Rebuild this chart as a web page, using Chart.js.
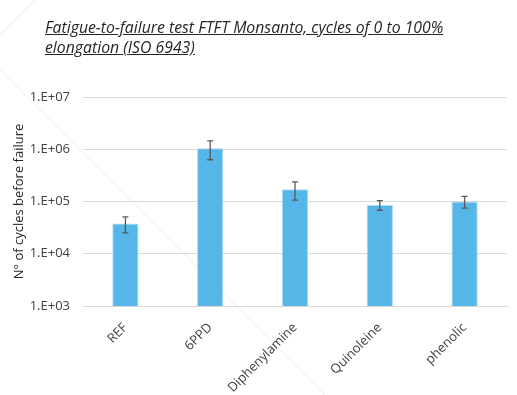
<!DOCTYPE html>
<html>
<head>
<meta charset="utf-8">
<script src="https://cdn.jsdelivr.net/npm/chart.js@4/dist/chart.umd.min.js"></script>
<style>
  html, body { margin: 0; padding: 0; background: #fff; }
  #wrap { position: relative; width: 517px; height: 395px; }
  #title {
    position: absolute; left: 45px; top: 17px; width: 440px;
    font-family: "Open Sans", sans-serif; font-style: italic; font-size: 15.8px;
    line-height: 20px; color: #262626; text-decoration: underline;
  }
  canvas { position: absolute; left: 0; top: 0; }
</style>
</head>
<body>
<div id="wrap">
  <canvas id="chart" width="517" height="395"></canvas>
  <div id="title">Fatigue-to-failure test FTFT Monsanto, cycles of 0 to 100% elongation (ISO 6943)</div>
</div>
<script>
// values (log axis)
const categories = ['REF', '6PPD', 'Diphenylamine', 'Quinoleine', 'phenolic'];
const cycles = [38000, 1040000, 172000, 86000, 100000];
const errors = [13000, 410000, 66000, 18000, 25000];
const yTicks = [1e3, 1e4, 1e5, 1e6, 1e7];

const fontFam = '"Open Sans", sans-serif';

// faint diagonal lines of the slide background
const backdrop = {
    id: 'backdrop',
    beforeDraw(chart) {
        const c = chart.ctx;
        c.save();
        c.strokeStyle = '#ececec';
        c.lineWidth = 1;
        c.beginPath();
        c.moveTo(0, 70);
        c.lineTo(325, 395);
        c.stroke();
        c.beginPath();
        c.moveTo(0, 35);
        c.lineTo(35, 0);
        c.stroke();
        c.restore();
    }
};

// error bars drawn from the data through the scales
const errorBars = {
    id: 'errorBars',
    afterDatasetsDraw(chart) {
        const c = chart.ctx;
        const x = chart.scales.x, y = chart.scales.y;
        c.save();
        c.strokeStyle = '#595959';
        c.lineWidth = 1.3;
        cycles.forEach((v, i) => {
            const px = x.getPixelForValue(i);
            const top = y.getPixelForValue(v + errors[i]);
            const bot = y.getPixelForValue(v - errors[i]);
            c.beginPath();
            c.moveTo(px, top); c.lineTo(px, bot);
            c.moveTo(px - 3, top); c.lineTo(px + 3, top);
            c.moveTo(px - 3, bot); c.lineTo(px + 3, bot);
            c.stroke();
        });
        c.restore();
    }
};

new Chart(document.getElementById('chart'), {
    type: 'bar',
    data: {
        labels: categories,
        datasets: [{
            data: cycles,
            backgroundColor: '#55b6e7',
            borderColor: '#a8daf3',
            borderWidth: 1,
            borderSkipped: 'bottom',
            barPercentage: 0.31,
            categoryPercentage: 1
        }]
    },
    options: {
        responsive: false,
        animation: false,
        layout: { padding: { top: 97, right: 10, left: 0, bottom: 0 } },
        plugins: { legend: { display: false }, tooltip: { enabled: false } },
        scales: {
            x: {
                grid: { display: false },
                border: { color: '#d9d9d9' },
                ticks: {
                    minRotation: 45, maxRotation: 45,
                    padding: 6,
                    color: '#404040',
                    font: { family: fontFam, size: 13 }
                },
                afterFit(scale) { scale.height = 89; }
            },
            y: {
                type: 'logarithmic',
                min: 1e3, max: 1e7,
                border: { display: false },
                grid: { color: '#d9d9d9', drawTicks: false },
                ticks: {
                    padding: 13,
                    color: '#404040',
                    font: { family: fontFam, size: 13 },
                    callback: v => '1.E+' + String(Math.round(Math.log10(v))).padStart(2, '0')
                },
                afterBuildTicks(axis) {
                    axis.ticks = yTicks.map(v => ({ value: v, major: true }));
                },
                title: {
                    display: true,
                    text: 'N° of cycles before failure',
                    color: '#262626',
                    font: { family: fontFam, size: 13 },
                    padding: { top: 11, bottom: 0 }
                },
                afterFit(scale) { scale.width = 83; }
            }
        }
    },
    plugins: [backdrop, errorBars]
});
</script>
</body>
</html>
